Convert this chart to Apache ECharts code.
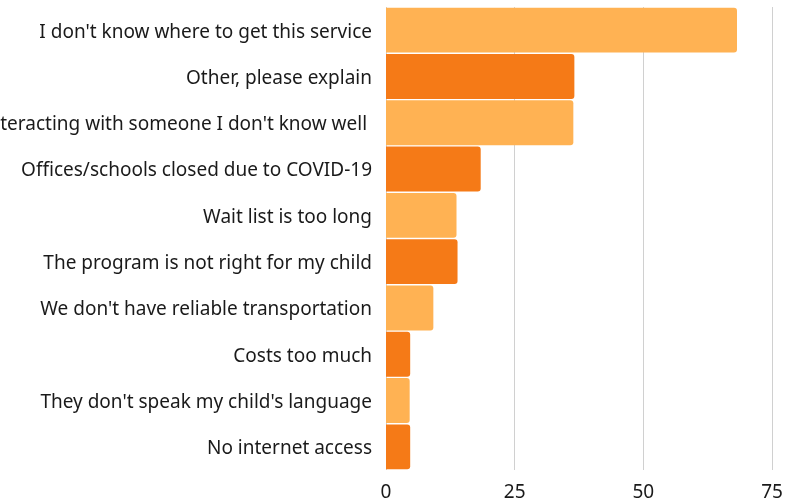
<!DOCTYPE html>
<html><head><meta charset="utf-8">
<script src="https://cdn.jsdelivr.net/npm/echarts@6/dist/echarts.min.js"></script>
<style>html,body{margin:0;padding:0;background:#fff}#c{width:790px;height:500px}</style>
</head><body><div id="c"></div>
<script>
const categories = [
  "I don't know where to get this service",
  "Other, please explain",
  "Interacting with someone I don't know well ",
  "Offices/schools closed due to COVID-19",
  "Wait list is too long",
  "The program is not right for my child",
  "We don't have reliable transportation",
  "Costs too much",
  "They don't speak my child's language",
  "No internet access"
];
const values = [68.2, 36.6, 36.4, 18.4, 13.7, 13.9, 9.2, 4.7, 4.6, 4.7];
const xTicks = [0, 25, 50, 75];
const colors = ['#FFB253', '#F57A17'];

const chart = echarts.init(document.getElementById('c'), null, {renderer: 'canvas'});
chart.setOption({
  animation: false,
  grid: {left: 386, right: 18, top: 7, bottom: 30, containLabel: false, outerBoundsMode: 'none'},
  xAxis: {
    type: 'value', min: xTicks[0], max: xTicks[xTicks.length - 1], interval: 25,
    axisLine: {show: false}, axisTick: {show: false},
    splitLine: {show: true, lineStyle: {color: '#d0d0d0', width: 1}},
    axisLabel: {color: '#1a1a1a', fontSize: 19, fontFamily: 'Noto Sans', margin: 13,
      formatter: v => xTicks.includes(v) ? String(v) : ''}
  },
  yAxis: {
    type: 'category', data: categories, inverse: true,
    axisLine: {show: false}, axisTick: {show: false},
    axisLabel: {color: '#1a1a1a', fontSize: 19, fontFamily: 'Noto Sans', margin: 14,
      formatter: v => '{a|' + v + '}',
      rich: {a: {color: '#1a1a1a', fontSize: 19, fontFamily: 'Noto Sans', padding: [4, 0, 0, 0]}}}
  },
  series: [{
    type: 'bar', data: values.map((v, i) => ({value: v, itemStyle: {color: colors[i % 2]}})),
    barCategoryGap: '3%',
    itemStyle: {borderRadius: [0, 3, 3, 0]}
  }]
});
</script></body></html>
